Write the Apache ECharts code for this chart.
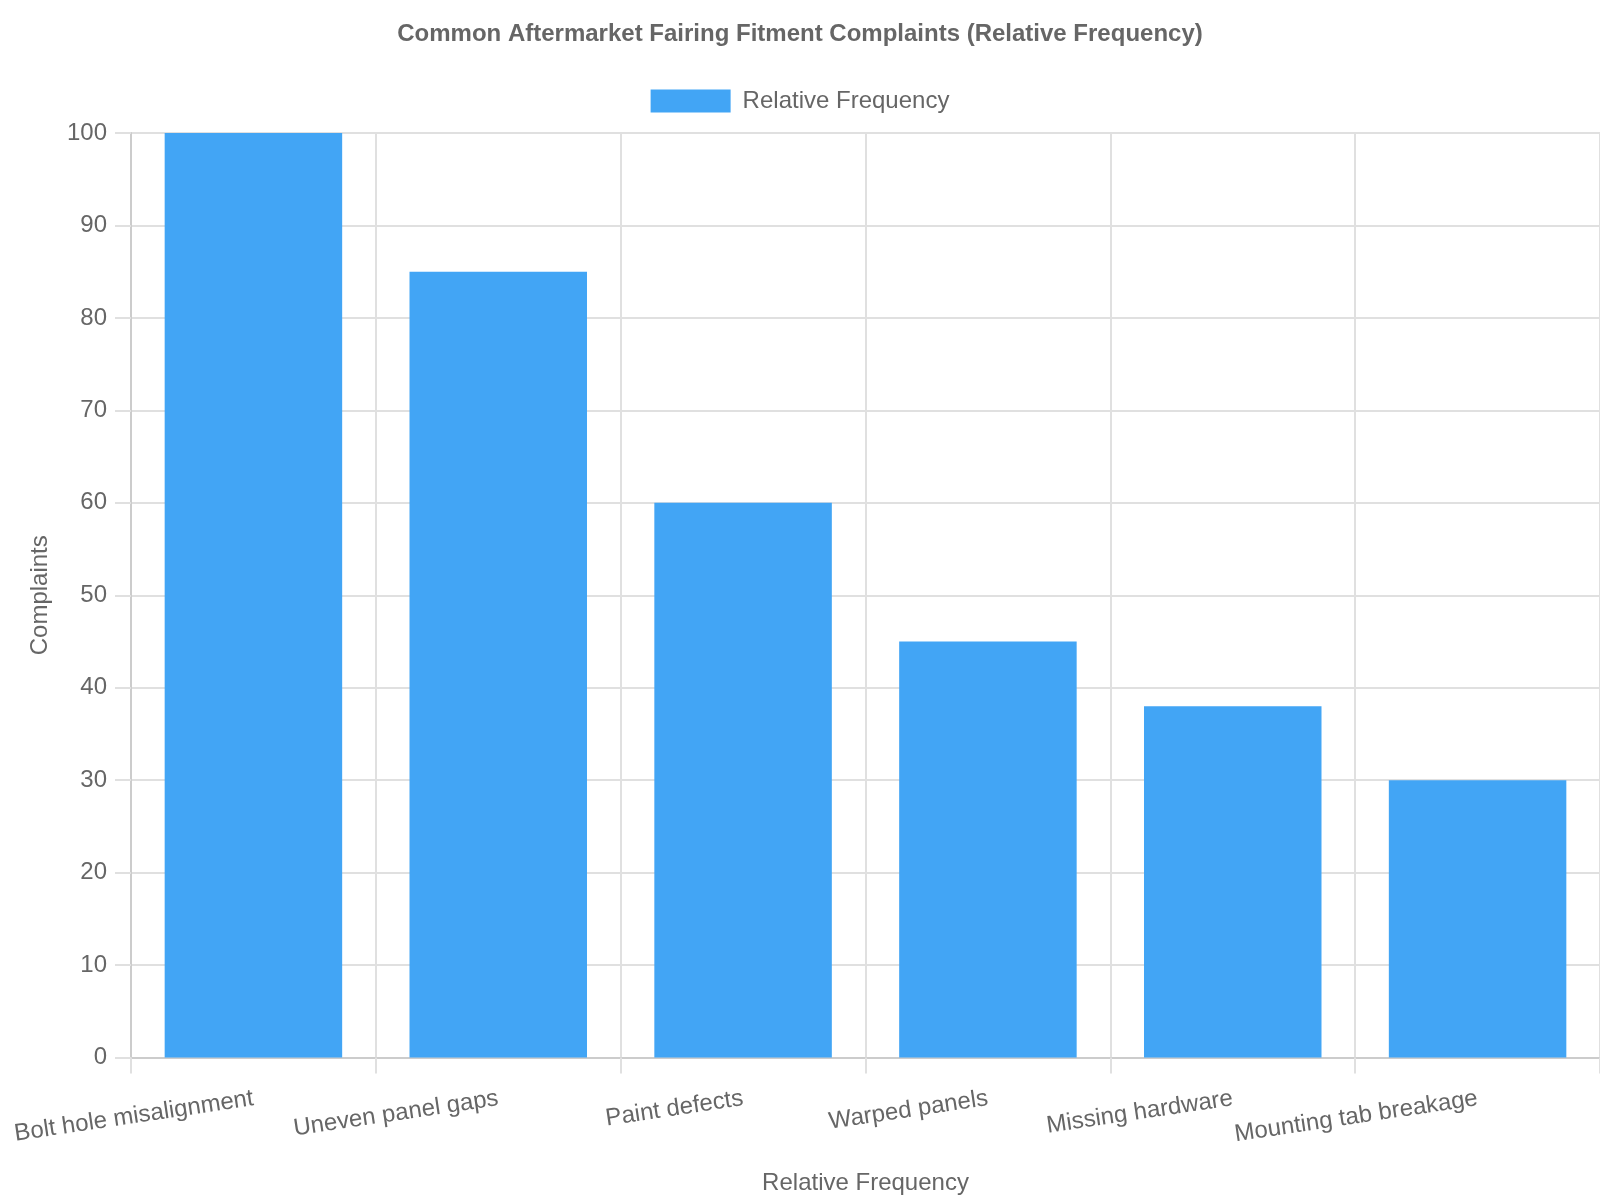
<!DOCTYPE html>
<html>
<head>
<meta charset="utf-8">
<script src="https://cdn.jsdelivr.net/npm/echarts@6/dist/echarts.min.js"></script>
<style>
html,body{margin:0;padding:0;background:#fff;}
#chart{width:1600px;height:1200px;}
</style>
</head>
<body>
<div id="chart"></div>
<script>
const titleText = 'Common Aftermarket Fairing Fitment Complaints (Relative Frequency)';
const seriesName = 'Relative Frequency';
const categories = ['Bolt hole misalignment','Uneven panel gaps','Paint defects','Warped panels','Missing hardware','Mounting tab breakage'];
const values = [100, 85, 60, 45, 38, 30];
const yTitle = 'Complaints';
const xTitle = 'Relative Frequency';

const font = '"Liberation Sans", Arial, Helvetica, sans-serif';
const chart = echarts.init(document.getElementById('chart'), null, {renderer:'canvas'});
chart.setOption({
  backgroundColor:'#fff',
  animation:false,
  title:{text:titleText,left:'center',top:17,textStyle:{fontFamily:font,fontSize:24,fontWeight:'bold',color:'#666'}},
  legend:{top:84,left:'center',icon:'rect',itemWidth:80,itemHeight:23,itemStyle:{borderWidth:0},
    textStyle:{fontFamily:font,fontSize:24,color:'#666',padding:[0,0,0,7]},data:[seriesName]},
  grid:{left:131,right:0,top:133,bottom:142,containLabel:false},
  xAxis:{type:'category',data:categories,boundaryGap:true,
    name:xTitle,nameLocation:'middle',nameGap:113.5,nameTextStyle:{fontFamily:font,fontSize:24,color:'#666'},
    axisLine:{show:true,lineStyle:{color:'#ccc',width:2}},
    axisTick:{show:true,length:16,lineStyle:{color:'#e0e0e0',width:2}},
    axisLabel:{rotate:8.5,margin:41,interval:0,fontFamily:font,fontSize:24,color:'#666'},
    splitLine:{show:true,lineStyle:{color:'#e0e0e0',width:2}}},
  yAxis:{type:'value',min:0,max:100,interval:10,
    name:yTitle,nameLocation:'middle',nameGap:79,nameRotate:90,nameTextStyle:{fontFamily:font,fontSize:24,color:'#666'},
    axisLine:{show:true,lineStyle:{color:'#ccc',width:2}},
    axisTick:{show:true,length:16,lineStyle:{color:'#e0e0e0',width:2}},
    axisLabel:{margin:24,fontFamily:font,fontSize:24,color:'#666'},
    splitLine:{show:true,lineStyle:{color:'#e0e0e0',width:2}}},
  series:[{name:seriesName,type:'bar',data:values,barCategoryGap:'27.5%',itemStyle:{color:'#42A5F5'}}]
});
</script>
</body>
</html>
